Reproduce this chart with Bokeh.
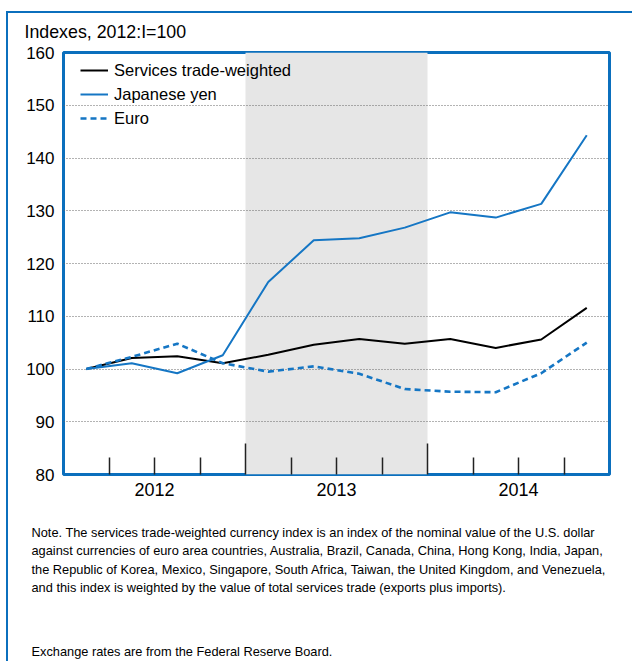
from bokeh.plotting import figure
from bokeh.models import (Range1d, FixedTicker, LinearAxis, BoxAnnotation, Title,
                          Legend, LegendItem)
from bokeh.embed import file_html
from bokeh.resources import INLINE

# ---------------- data ----------------
quarters = ["2012:Q1", "2012:Q2", "2012:Q3", "2012:Q4",
            "2013:Q1", "2013:Q2", "2013:Q3", "2013:Q4",
            "2014:Q1", "2014:Q2", "2014:Q3", "2014:Q4"]
services_tw = [100.0, 102.1, 102.4, 101.1, 102.7, 104.6, 105.7, 104.8, 105.7, 104.0, 105.6, 111.6]
japanese_yen = [100.0, 101.1, 99.2, 102.6, 116.5, 124.4, 124.8, 126.8, 129.7, 128.7, 131.3, 144.3]
euro = [100.0, 102.3, 104.8, 101.1, 99.5, 100.5, 99.1, 96.2, 95.7, 95.6, 99.2, 105.0]
years = ["2012", "2013", "2014"]
shaded_year = "2013"
y_ticks = [80, 90, 100, 110, 120, 130, 140, 150, 160]

unit_label = "Indexes, 2012:I=100"
note_lines = [
    "Note. The services trade-weighted currency index is an index of the nominal value of the U.S. dollar",
    "against currencies of euro area countries, Australia, Brazil, Canada, China, Hong Kong, India, Japan,",
    "the Republic of Korea, Mexico, Singapore, South Africa, Taiwan, the United Kingdom, and Venezuela,",
    "and this index is weighted by the value of total services trade (exports plus imports).",
]
source_line = "Exchange rates are from the Federal Reserve Board."

# quarter positions (centre of each quarter)
xq = [i + 0.5 for i in range(len(quarters))]
n_q = len(quarters)

BLUE = "#0b6fbd"
LINE_BLUE = "#1576c4"
FONT = "Liberation Sans"


def pad(t, top=0, bottom=0):
    try:
        t.padding = dict(left=0, right=0, top=top, bottom=bottom)
    except Exception:
        t.standoff = 2 * max(top, bottom)


W, H = 626, 650
p = figure(width=W, height=H, output_backend="svg", toolbar_location=None,
           x_range=Range1d(0, n_q), y_range=Range1d(80, 160),
           min_border_left=55, min_border_right=25, min_border_top=39, min_border_bottom=189)
p.margin = (11, 0, 0, 6)
p.styles = {"border-left": f"2px solid {BLUE}", "border-top": f"2px solid {BLUE}"}
p.background_fill_color = "white"
p.border_fill_color = "white"
p.outline_line_color = BLUE
p.outline_line_width = 3

# shaded year
si = years.index(shaded_year)
p.add_layout(BoxAnnotation(left=si * 4, right=si * 4 + 4, fill_color="#e6e6e6",
                           fill_alpha=1, line_color=None, level="image"))

# y axis
yax = p.yaxis[0]
yax.ticker = FixedTicker(ticks=y_ticks)
yax.axis_line_color = None
yax.major_tick_line_color = None
yax.minor_tick_line_color = None
yax.major_label_text_font = FONT
yax.major_label_text_font_size = "17px"
yax.major_label_text_color = "black"
yax.major_label_standoff = 3

p.xgrid.grid_line_color = None
p.ygrid.ticker = FixedTicker(ticks=y_ticks)
p.ygrid.grid_line_color = "#666666"
p.ygrid.grid_line_dash = "1 2"
p.ygrid.grid_line_width = 1

# x axis: tick marks only (year boundaries long, quarter boundaries short)
xax = p.xaxis[0]
xax.ticker = FixedTicker(ticks=[4, 8], minor_ticks=[q for q in range(1, n_q) if q % 4 != 0])
xax.axis_line_color = None
xax.major_tick_in = 31
xax.major_tick_out = 0
xax.minor_tick_in = 17
xax.minor_tick_out = 0
xax.major_tick_line_color = "#222222"
xax.minor_tick_line_color = "#222222"
xax.major_tick_line_width = 1.5
xax.minor_tick_line_width = 1.5
xax.major_label_text_font_size = "0px"
xax.major_label_text_color = None
xax.major_label_standoff = 0

# x axis: year labels
yl = LinearAxis(ticker=FixedTicker(ticks=[2, 6, 10]),
                major_label_overrides={2 + 4 * i: y for i, y in enumerate(years)})
yl.axis_line_color = None
yl.major_tick_line_color = None
yl.minor_tick_line_color = None
yl.major_label_text_font = FONT
yl.major_label_text_font_size = "18px"
yl.major_label_text_color = "black"
yl.major_label_standoff = 2
p.add_layout(yl, "below")

# series
r1 = p.line(xq, services_tw, line_color="black", line_width=2)
r2 = p.line(xq, japanese_yen, line_color=LINE_BLUE, line_width=2)
r3 = p.line(xq, euro, line_color=LINE_BLUE, line_width=2.6, line_dash="6 4")

legend = Legend(items=[LegendItem(label="Services trade-weighted", renderers=[r1]),
                       LegendItem(label="Japanese yen", renderers=[r2]),
                       LegendItem(label="Euro", renderers=[r3])],
                location=(17, 346), padding=0, margin=0, spacing=4,
                glyph_width=28, glyph_height=20, label_height=20, label_standoff=6,
                border_line_color=None, background_fill_alpha=0)
legend.label_text_font = FONT
legend.label_text_font_size = "16.5px"
legend.label_text_color = "black"
p.add_layout(legend)

# unit label above the frame
t_unit = Title(text=unit_label, align="left", offset=-39, standoff=0,
               text_font=FONT, text_font_size="17.8px", text_font_style="normal",
               text_color="black")
pad(t_unit, bottom=11)
p.add_layout(t_unit, "above")

# note block and source line below the chart
t_note = Title(text="\n".join(note_lines), align="left", offset=-32, standoff=0,
               text_font=FONT, text_font_size="12.8px", text_font_style="normal",
               text_color="black", text_line_height=1.244)
pad(t_note, top=24)
p.add_layout(t_note, "below")
t_src = Title(text=source_line, align="left", offset=-32, standoff=0,
              text_font=FONT, text_font_size="12.8px", text_font_style="normal",
              text_color="black")
pad(t_src, top=46)
p.add_layout(t_src, "below")

open("out.html", "w").write(file_html(p, INLINE))
